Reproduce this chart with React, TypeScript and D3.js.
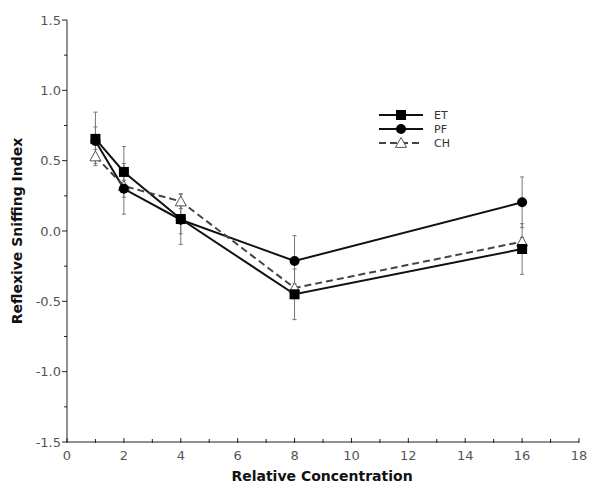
import React from "react";
import * as d3 from "d3";

const concentrations = [1, 2, 4, 8, 16];
const etValues = [0.655, 0.42, 0.085, -0.45, -0.128];
const etErrors = [0.19, 0.18, 0.18, 0.18, 0.18];
const pfValues = [0.64, 0.30, 0.08, -0.213, 0.204];
const pfErrors = [0.1, 0.18, 0.1, 0.18, 0.18];
const chValues = [0.53, 0.32, 0.21, -0.405, -0.076];
const chErrors = [0.05, 0.04, 0.05, 0.03, 0.03];
const xTicks = [0, 2, 4, 6, 8, 10, 12, 14, 16, 18];
const yTicks = [-1.5, -1.0, -0.5, 0.0, 0.5, 1.0, 1.5];
const seriesNames = ["ET", "PF", "CH"];

const W = 601;
const H = 497;
const x = d3.scaleLinear().domain([0, 18]).range([67, 579]);
const y = d3.scaleLinear().domain([-1.5, 1.5]).range([442, 20]);

const FONT = "Verdana, 'DejaVu Sans', sans-serif";

function Marker({ kind, cx, cy }: { kind: string; cx: number; cy: number }) {
  if (kind === "ET") return <rect x={cx - 5} y={cy - 5} width={10} height={10} fill="#000" />;
  if (kind === "PF") return <circle cx={cx} cy={cy} r={5} fill="#000" />;
  const s = 5.5;
  return (
    <path
      d={`M${cx},${cy - s} L${cx + s},${cy + s * 0.8} L${cx - s},${cy + s * 0.8} Z`}
      fill="#fff"
      stroke="#555"
      strokeWidth={1}
    />
  );
}

export default function App() {
  const series = [
    { name: "ET", vals: etValues, errs: etErrors, dash: undefined, color: "#111" },
    { name: "PF", vals: pfValues, errs: pfErrors, dash: undefined, color: "#111" },
    { name: "CH", vals: chValues, errs: chErrors, dash: "7,4", color: "#444" },
  ];
  const line = d3
    .line<[number, number]>()
    .x((d) => x(d[0]))
    .y((d) => y(d[1]));

  const xMinor = d3.range(0, 19, 1);
  const yMinor = d3.range(-1.5, 1.5001, 0.25);

  return (
    <svg width={W} height={H} style={{ display: "block", position: "absolute", left: 0, top: 0 }}>
      <rect width={W} height={H} fill="#fff" />
      {/* axes */}
      <line x1={x(0)} x2={x(0)} y1={y(1.5)} y2={y(-1.5)} stroke="#222" strokeWidth={1} />
      <line x1={x(0)} x2={x(18)} y1={y(-1.5)} y2={y(-1.5)} stroke="#222" strokeWidth={1} />
      {yMinor.map((v, i) => {
        const major = Math.abs(v * 2 - Math.round(v * 2)) < 1e-6;
        return (
          <line key={"ym" + i} x1={x(0) - (major ? 5 : 3)} x2={x(0)} y1={y(v)} y2={y(v)} stroke="#222" strokeWidth={1} />
        );
      })}
      {xMinor.map((v) => {
        const major = v % 2 === 0;
        return (
          <line key={"xm" + v} x1={x(v)} x2={x(v)} y1={y(-1.5) + 1} y2={y(-1.5) - (major ? 4 : 3)} stroke="#222" strokeWidth={1} />
        );
      })}
      {yTicks.map((v) => (
        <text key={"yt" + v} x={x(0) - 6} y={y(v) + 4.5} textAnchor="end" fontFamily={FONT} fontSize={13} fill="#555">
          {v.toFixed(1)}
        </text>
      ))}
      {xTicks.map((v) => (
        <text key={"xt" + v} x={x(v)} y={y(-1.5) + 18} textAnchor="middle" fontFamily={FONT} fontSize={13} fill="#555">
          {v}
        </text>
      ))}
      <text x={322} y={481} textAnchor="middle" fontFamily={FONT} fontSize={14} fontWeight="bold" fill="#111">
        Relative Concentration
      </text>
      <text
        transform={`translate(22,${y(0)}) rotate(-90)`}
        textAnchor="middle"
        fontFamily={FONT}
        fontSize={14}
        fontWeight="bold"
        fill="#111"
      >
        Reflexive Sniffing Index
      </text>
      {/* error bars */}
      {series.map((s) =>
        concentrations.map((c, i) => (
          <g key={s.name + "e" + i} stroke="#777" strokeWidth={1}>
            <line x1={x(c)} x2={x(c)} y1={y(s.vals[i] + s.errs[i])} y2={y(s.vals[i] - s.errs[i])} />
            <line x1={x(c) - 2} x2={x(c) + 2} y1={y(s.vals[i] + s.errs[i])} y2={y(s.vals[i] + s.errs[i])} />
            <line x1={x(c) - 2} x2={x(c) + 2} y1={y(s.vals[i] - s.errs[i])} y2={y(s.vals[i] - s.errs[i])} />
          </g>
        ))
      )}
      {/* lines */}
      {series.map((s) => (
        <path
          key={s.name + "l"}
          d={line(concentrations.map((c, i) => [c, s.vals[i]] as [number, number])) || ""}
          fill="none"
          stroke={s.color}
          strokeWidth={2}
          strokeDasharray={s.dash}
        />
      ))}
      {/* markers */}
      {series
        .slice()
        .reverse()
        .map((s) =>
          concentrations.map((c, i) => <Marker key={s.name + "m" + i} kind={s.name} cx={x(c)} cy={y(s.vals[i])} />)
        )}
      {/* legend */}
      {seriesNames.map((n, i) => {
        const s = series[i];
        const ly = 115 + i * 14;
        return (
          <g key={"lg" + n}>
            <line x1={379} x2={423} y1={ly} y2={ly} stroke={s.color} strokeWidth={2} strokeDasharray={s.dash} />
            <Marker kind={n} cx={401} cy={ly} />
            <text x={434} y={ly + 4} fontFamily={FONT} fontSize={11} fill="#333">
              {n}
            </text>
          </g>
        );
      })}
    </svg>
  );
}
